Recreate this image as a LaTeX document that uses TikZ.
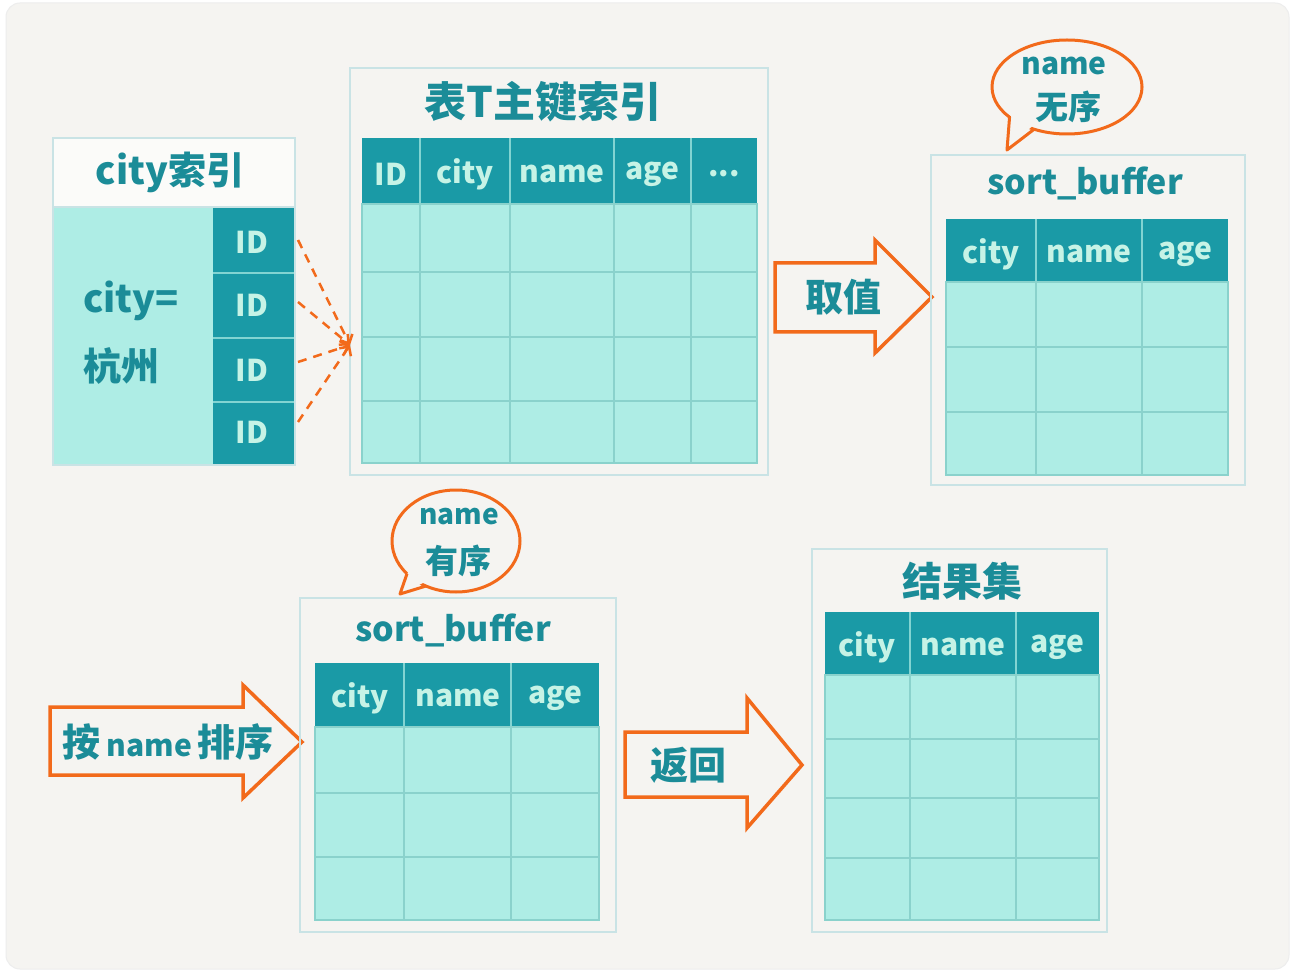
\documentclass[tikz,border=0pt]{standalone}
\usepackage{fontspec}
\setmainfont{Noto Sans CJK SC}
\usetikzlibrary{calc,arrows.meta}
\definecolor{bgc}{HTML}{F5F4F1}
\definecolor{hdr}{HTML}{1A9AA6}
\definecolor{cellc}{HTML}{AEEDE5}
\definecolor{gridc}{HTML}{8AD2CC}
\definecolor{framec}{HTML}{C9E3E5}
\definecolor{ttl}{HTML}{1B8C98}
\definecolor{hdrtxt}{HTML}{C6F3E6}
\definecolor{orng}{HTML}{F26A1B}
\tikzset{
  frm/.style={draw=framec, line width=2pt},
  gridln/.style={draw=gridc, line width=2pt},
  hsep/.style={draw=cellc!70!hdr, line width=1.5pt},
  hlab/.style={text=hdrtxt, font=\fontsize{30}{32}\selectfont\bfseries, inner sep=0pt},
  ttlab/.style={text=ttl, font=\fontsize{38}{42}\selectfont\bfseries, inner sep=0pt},
  sblab/.style={text=ttl, font=\fontsize{34}{38}\selectfont\bfseries, inner sep=0pt},
  bublab/.style={text=ttl, font=\fontsize{30}{34}\selectfont\bfseries, inner sep=0pt},
  blockarrow/.style={draw=orng, fill=bgc, line width=3.5pt, line join=miter},
  bubble/.style={draw=orng, fill=bgc, line width=3pt},
  dasharrow/.style={draw=orng, line width=2.5pt, dash pattern=on 9pt off 7pt, -{Straight Barb[length=7pt,width=14pt,line width=2.5pt]}},
}
\begin{document}
\begin{tikzpicture}[x=1pt,y=-1pt]
\useasboundingbox (0,0) rectangle (1295,973);
\fill[white] (0,0) rectangle (1295,973);
\draw[fill=bgc, draw=black!7, line width=1pt, rounded corners=14pt] (6,3) rectangle (1289,969);

% ---------- Panel 1: city index ----------
\fill[white!60!bgc] (53,138) rectangle (295,207);
\fill[cellc] (53,207) rectangle (213,465);
\fill[hdr] (213,207) rectangle (295,465);
\foreach \y in {273,338,402} \draw[hsep] (213,\y) -- (295,\y);
\draw[frm] (53,138) rectangle (295,465);
\draw[draw=framec, line width=2pt] (53,207) -- (295,207);
\node[ttlab] (t1) at (170,172) {city索引};
\node[ttlab, anchor=west] (cv1) at (83,301) {city=};
\node[ttlab, anchor=west] (cv2) at (83,366) {杭州};
\node[hlab] (id1) at (252,242) {ID};
\node[hlab] (id2) at (252,305) {ID};
\node[hlab] (id3) at (252,370) {ID};
\node[hlab] (id4) at (252,432) {ID};

% ---------- Panel 2: primary key index ----------
\draw[frm] (350,68) rectangle (768,475);
\node[ttlab, font=\fontsize{42}{46}\selectfont\bfseries] (t2) at (543,102) {表T主键索引};
\fill[cellc] (362,204) rectangle (757,463);
\fill[hdr] (362,138) rectangle (757,204);
\foreach \x in {420,510,614,691} {\draw[hsep] (\x,138) -- (\x,204); \draw[gridln] (\x,204) -- (\x,463);}
\foreach \y in {272,337,401} \draw[gridln] (362,\y) -- (757,\y);
\draw[gridln] (362,204) rectangle (757,463);
\node[hlab] (h21) at (391,174) {ID};
\node[hlab] (h22) at (465,174) {city};
\node[hlab] (h23) at (562,174) {name};
\node[hlab] (h24) at (652,174) {age};
\node[hlab] (h25) at (724,174) {...};

% dashed arrows
\coordinate (tgt) at (350,345);
\coordinate (s1) at (298,240);
\coordinate (s2) at (298,302);
\coordinate (s3) at (298,362);
\coordinate (s4) at (298,422);
\draw[dasharrow] (s1) -- (tgt);
\draw[dasharrow] (s2) -- (tgt);
\draw[dasharrow] (s3) -- (tgt);
\draw[dasharrow] (s4) -- (tgt);

% ---------- Arrow 取值 ----------
\draw[blockarrow] (775,263) -- (875,263) -- (875,240) -- (932,297) -- (875,353) -- (875,332) -- (775,332) -- cycle;
\node[ttlab] (a1) at (843,297) {取值};

% ---------- Panel 3: sort_buffer (top) ----------
\draw[frm] (931,155) rectangle (1245,485);
\node[sblab] (t3) at (1085,183) {sort\_buffer};
\fill[cellc] (946,282) rectangle (1228,475);
\fill[hdr] (946,219) rectangle (1228,282);
\foreach \x in {1036,1142} {\draw[hsep] (\x,219) -- (\x,282); \draw[gridln] (\x,282) -- (\x,475);}
\foreach \y in {347,412} \draw[gridln] (946,\y) -- (1228,\y);
\draw[gridln] (946,282) rectangle (1228,475);
\node[hlab] (h31) at (991,254) {city};
\node[hlab] (h32) at (1089,254) {name};
\node[hlab] (h33) at (1185,254) {age};

% bubble: name 无序
\draw[bubble] (1067,87) ellipse [x radius=75, y radius=47];
\coordinate (b1a) at ({1067+75*cos(140)},{87+47*sin(140)});
\coordinate (b1b) at ({1067+75*cos(116)},{87+47*sin(116)});
\coordinate (b1tip) at (1007,150);
\fill[bgc] ($(b1a)+(2,-4)$) -- (b1tip) -- ($(b1b)+(-1,-4)$) -- cycle;
\draw[draw=orng, line width=3pt, line join=round] (b1a) -- (b1tip) -- (b1b);
\node[bublab] (bb1n) at (1064,66) {name};
\node[bublab, font=\fontsize{33}{36}\selectfont\bfseries] (bb1t) at (1068,107) {无序};

% ---------- Arrow 按 name 排序 ----------
\draw[blockarrow] (50,707) -- (243,707) -- (243,685) -- (302,742) -- (243,798) -- (243,775) -- (50,775) -- cycle;
\node[text=ttl, inner sep=0pt] (a2) at (168,742) {\fontsize{38}{40}\selectfont\bfseries 按\,\fontsize{30}{32}\selectfont name\,\fontsize{38}{40}\selectfont 排序};

% ---------- Panel 4: sort_buffer (bottom) ----------
\draw[frm] (300,598) rectangle (616,932);
\node[sblab] (t4) at (453,630) {sort\_buffer};
\fill[cellc] (315,727) rectangle (599,920);
\fill[hdr] (315,663) rectangle (599,727);
\foreach \x in {404,511} {\draw[hsep] (\x,663) -- (\x,727); \draw[gridln] (\x,727) -- (\x,920);}
\foreach \y in {793,857} \draw[gridln] (315,\y) -- (599,\y);
\draw[gridln] (315,727) rectangle (599,920);
\node[hlab] (h41) at (360,698) {city};
\node[hlab] (h42) at (458,698) {name};
\node[hlab] (h43) at (555,698) {age};

% bubble: name 有序
\draw[bubble] (456,541) ellipse [x radius=64, y radius=51];
\coordinate (b2a) at ({456+64*cos(140)},{541+51*sin(140)});
\coordinate (b2b) at ({456+64*cos(118)},{541+51*sin(118)});
\coordinate (b2tip) at (400,594);
\fill[bgc] ($(b2a)+(2,-4)$) -- (b2tip) -- ($(b2b)+(-1,-4)$) -- cycle;
\draw[draw=orng, line width=3pt, line join=round] (b2a) -- (b2tip) -- (b2b);
\node[bublab, font=\fontsize{28}{30}\selectfont\bfseries] (bb2n) at (459,517) {name};
\node[bublab, font=\fontsize{33}{36}\selectfont\bfseries] (bb2t) at (458,561) {有序};

% ---------- Arrow 返回 ----------
\draw[blockarrow] (625,732) -- (747,732) -- (747,698) -- (802,765) -- (747,828) -- (747,797) -- (625,797) -- cycle;
\node[ttlab] (a3) at (688,765) {返回};

% ---------- Panel 5: result set ----------
\draw[frm] (812,549) rectangle (1107,932);
\node[ttlab, font=\fontsize{40}{44}\selectfont\bfseries] (t5) at (962,581) {结果集};
\fill[cellc] (825,675) rectangle (1099,920);
\fill[hdr] (825,612) rectangle (1099,675);
\foreach \x in {910,1016} {\draw[hsep] (\x,612) -- (\x,675); \draw[gridln] (\x,675) -- (\x,920);}
\foreach \y in {739,798,858} \draw[gridln] (825,\y) -- (1099,\y);
\draw[gridln] (825,675) rectangle (1099,920);
\node[hlab] (h51) at (867,647) {city};
\node[hlab] (h52) at (963,647) {name};
\node[hlab] (h53) at (1057,647) {age};
\end{tikzpicture}
\end{document}
